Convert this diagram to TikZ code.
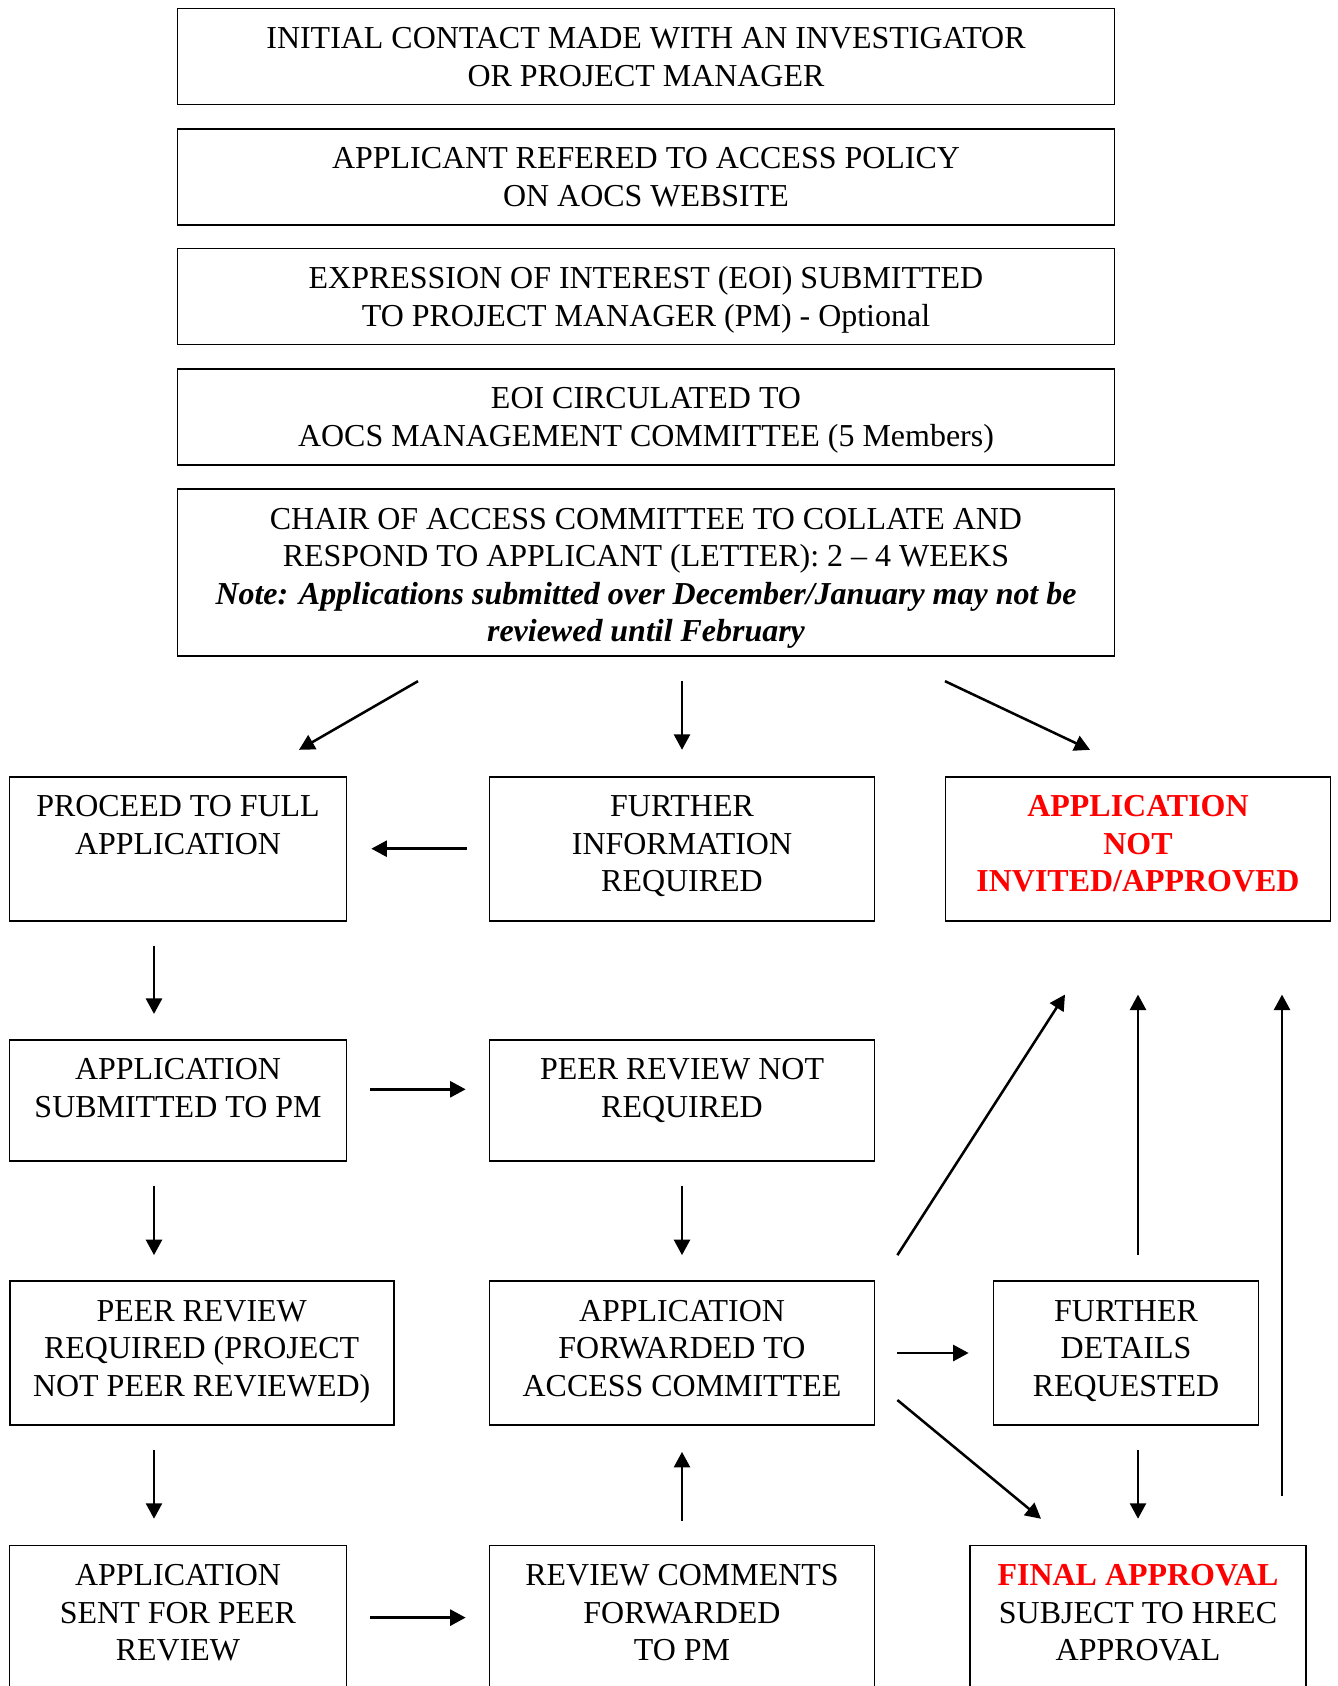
\documentclass[tikz,border=0pt]{standalone}
\usepackage{fontspec}
\setmainfont{Liberation Serif}
\usepackage{xcolor}
\usepackage{tikz}
\usetikzlibrary{arrows.meta,calc}
\definecolor{refusered}{HTML}{FF0000}
\newlength{\pxu}
\setlength{\pxu}{0.0132cm}
\newcommand{\boxtext}[3]{\parbox[c][#2\pxu][t]{#1\pxu}{\centering\rule{0pt}{40\pxu}#3}}

\begin{document}
\begin{tikzpicture}[x=0.0132cm,y=-0.0132cm,
  flowbox/.style={draw,line width=0.65pt,inner sep=0pt,font=\fontsize{12}{14.1}\selectfont},
  flow/.style={line width=0.95pt,-{Triangle[length=5.8pt,width=6pt]}}]
  \useasboundingbox (0,0) rectangle (1337,1686);
  \clip (0,0) rectangle (1337,1686);
  \node[flowbox] (contact) at (646,56.5) {\boxtext{937}{96}{INITIAL CONTACT MADE WITH AN INVESTIGATOR\\OR PROJECT MANAGER}};
  \node[flowbox] (policy) at (646,177) {\boxtext{937}{96}{APPLICANT REFERED TO ACCESS POLICY\\ON AOCS WEBSITE}};
  \node[flowbox] (eoi) at (646,296.5) {\boxtext{937}{96}{EXPRESSION OF INTEREST (EOI) SUBMITTED\\TO PROJECT MANAGER (PM) - Optional}};
  \node[flowbox] (circulated) at (646,417) {\boxtext{937}{96}{EOI CIRCULATED TO\\AOCS MANAGEMENT COMMITTEE (5 Members)}};
  \node[flowbox] (chair) at (646,572.8) {\boxtext{937}{167}{CHAIR OF ACCESS COMMITTEE TO COLLATE AND\\RESPOND TO APPLICANT (LETTER): 2 – 4 WEEKS\\{\bfseries\itshape Note: Applications submitted over December/January may not be\\reviewed until February}}};
  \node[flowbox] (proceed) at (178,848.7) {\boxtext{337}{144}{PROCEED TO FULL\\APPLICATION}};
  \node[flowbox] (info) at (682,848.7) {\boxtext{385}{144}{FURTHER\\INFORMATION\\REQUIRED}};
  \node[flowbox] (declined) at (1138,848.7) {\boxtext{385}{144}{\color{refusered}\bfseries APPLICATION\\NOT\\INVITED/APPROVED}};
  \node[flowbox] (submitted) at (178,1100.3) {\boxtext{337}{121}{APPLICATION\\SUBMITTED TO PM}};
  \node[flowbox] (nopeer) at (682,1100.3) {\boxtext{385}{121}{PEER REVIEW NOT\\REQUIRED}};
  \node[flowbox] (peerreq) at (201.7,1353) {\boxtext{384}{144}{PEER REVIEW\\REQUIRED (PROJECT\\NOT PEER REVIEWED)}};
  \node[flowbox] (forwarded) at (682,1353) {\boxtext{385}{144}{APPLICATION\\FORWARDED TO\\ACCESS COMMITTEE}};
  \node[flowbox] (details) at (1126,1353) {\boxtext{265}{144}{FURTHER\\DETAILS\\REQUESTED}};
  \node[flowbox] (sent) at (178,1617.6) {\boxtext{337}{144}{APPLICATION\\SENT FOR PEER\\REVIEW}};
  \node[flowbox] (comments) at (682,1617.6) {\boxtext{385}{144}{REVIEW COMMENTS\\FORWARDED\\TO PM}};
  \node[flowbox] (final) at (1138,1617.6) {\boxtext{336}{144}{{\color{refusered}\bfseries FINAL APPROVAL}\\SUBJECT TO HREC\\APPROVAL}};
  \draw[flow] ($(chair.south)+(-228,24)$) -- ($(proceed.north)+(121,-26)$);
  \draw[flow] ($(chair.south)+(36,24)$) -- ($(info.north)+(0,-26)$);
  \draw[flow] ($(chair.south)+(299,24)$) -- ($(declined.north)+(-48,-26)$);
  \draw[flow] ($(info.west)+(-22,0)$) -- ($(proceed.east)+(24,0)$);
  \draw[flow] ($(proceed.south)+(-24,24)$) -- ($(submitted.north)+(-24,-25)$);
  \draw[flow] ($(submitted.east)+(23,-11)$) -- ($(nopeer.west)+(-23,-11)$);
  \draw[flow] ($(submitted.south)+(-24,24)$) -- ($(peerreq.north)+(-47.7,-25)$);
  \draw[flow] ($(nopeer.south)+(0,24)$) -- ($(forwarded.north)+(0,-25)$);
  \draw[flow] ($(forwarded.east)+(22,0)$) -- ($(details.west)+(-24,0)$);
  \draw[flow] ($(forwarded.north east)+(22,-25)$) -- ($(declined.south)+(-73,73)$);
  \draw[flow] ($(details.north)+(12,-25)$) -- ($(declined.south)+(0,73)$);
  \draw[flow] ($(final.north)+(144,-49)$) -- ($(declined.south)+(144,73)$);
  \draw[flow] ($(forwarded.east)+(22,47)$) -- ($(final.north)+(-97,-26)$);
  \draw[flow] ($(details.south)+(12,24)$) -- ($(final.north)+(0,-26)$);
  \draw[flow] ($(peerreq.south)+(-47.7,24)$) -- ($(sent.north)+(-24,-26)$);
  \draw[flow] ($(comments.north)+(0,-24)$) -- ($(forwarded.south)+(0,26)$);
  \draw[flow] ($(sent.east)+(23,0)$) -- ($(comments.west)+(-23,0)$);
\end{tikzpicture}
\end{document}
